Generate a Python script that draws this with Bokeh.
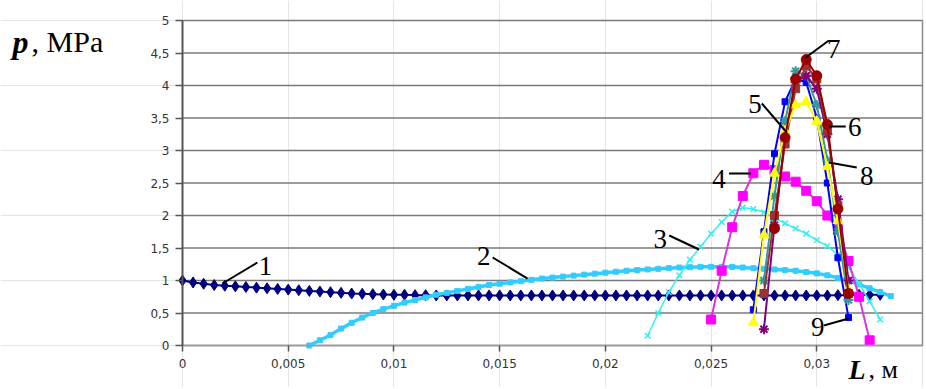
from bokeh.plotting import figure
from bokeh.models import FixedTicker, CustomJSTickFormatter, Label, Range1d, LinearAxis
from bokeh.embed import file_html
from bokeh.resources import INLINE

# ---------------- data ----------------
x1 = [i * 0.0005 for i in range(67)]
y1 = [1.0, 0.97, 0.95, 0.93, 0.92, 0.91, 0.90, 0.89, 0.88, 0.87,
      0.86, 0.85, 0.84, 0.83, 0.82, 0.81, 0.80, 0.795, 0.79, 0.785,
      0.78, 0.78, 0.775, 0.775, 0.77, 0.77, 0.77, 0.77, 0.77, 0.77,
      0.77, 0.77, 0.77, 0.77, 0.77, 0.77, 0.77, 0.77, 0.77, 0.77,
      0.77, 0.77, 0.77, 0.77, 0.77, 0.77, 0.77, 0.77, 0.77, 0.77,
      0.77, 0.77, 0.77, 0.77, 0.77, 0.77, 0.77, 0.77, 0.77, 0.77,
      0.77, 0.77, 0.775, 0.775, 0.78, 0.78, 0.78]

x2 = [0.006 + i * 0.0005 for i in range(56)]
y2 = [0.0, 0.08, 0.16, 0.26, 0.35, 0.43, 0.50, 0.56, 0.61, 0.66,
      0.70, 0.74, 0.78, 0.81, 0.84, 0.87, 0.90, 0.93, 0.95, 0.97,
      0.99, 1.01, 1.03, 1.045, 1.06, 1.075, 1.09, 1.105, 1.12, 1.135,
      1.15, 1.16, 1.17, 1.18, 1.19, 1.20, 1.205, 1.21, 1.21, 1.21,
      1.21, 1.20, 1.19, 1.18, 1.17, 1.16, 1.15, 1.13, 1.11, 1.08,
      1.04, 1.00, 0.94, 0.88, 0.82, 0.76]

x3 = [0.022 + i * 0.0005 for i in range(23)]
y3 = [0.15, 0.50, 0.82, 1.08, 1.32, 1.52, 1.72, 1.90, 2.06, 2.12,
      2.10, 2.05, 1.96, 1.88, 1.80, 1.72, 1.62, 1.53, 1.40, 1.20,
      0.95, 0.68, 0.40]

x4 = [0.025 + i * 0.0005 for i in range(16)]
y4 = [0.40, 1.15, 1.82, 2.30, 2.65, 2.78, 2.70, 2.60, 2.52, 2.38,
      2.22, 2.00, 1.78, 1.30, 0.75, 0.08]

x_pk_a = [0.027 + i * 0.0005 for i in range(10)]
x_pk_b = [0.0275 + i * 0.0005 for i in range(9)]
x_pk_c = [0.028 + i * 0.0005 for i in range(8)]

y5 = [0.35, 1.70, 2.65, 3.30, 3.70, 3.75, 3.45, 2.75, 1.92, 0.85]      # yellow
y6 = [0.80, 2.00, 3.10, 3.95, 4.30, 4.10, 3.30, 2.15, 0.80]           # dark red
y_purple = [0.25, 1.85, 3.20, 4.05, 4.15, 3.95, 3.25, 2.25, 1.00]     # purple
y7 = [1.80, 3.20, 4.10, 4.40, 4.15, 3.40, 2.10, 0.80]                 # maroon
y8 = [1.00, 2.30, 3.45, 4.22, 4.15, 3.70, 2.85, 1.75, 0.70]           # teal
y9 = [0.55, 1.75, 2.95, 3.75, 4.10, 4.05, 3.50, 2.50, 1.35, 0.43]     # blue

x_ticks = [0, 0.005, 0.01, 0.015, 0.02, 0.025, 0.03]
y_ticks = [0, 0.5, 1, 1.5, 2, 2.5, 3, 3.5, 4, 4.5, 5]
X_MAX = 0.035
Y_MAX = 5

curve_names = ["1", "2", "3", "4", "5", "6", "7", "8", "9"]
name_pos_x = [0.00392, 0.01425, 0.0226, 0.02538, 0.02708, 0.03179, 0.0308, 0.03236, 0.03005]
name_pos_y = [1.23, 1.37, 1.646, 2.554, 3.708, 3.354, 4.554, 2.615, 0.292]
lead_x0 = [0.00354, 0.01467, 0.02302, 0.02585, 0.0274, 0.03137, 0.03057, 0.03189, 0.03033]
lead_y0 = [1.277, 1.354, 1.692, 2.646, 3.723, 3.369, 4.692, 2.738, 0.308]
lead_x1 = [0.00189, 0.01632, 0.02443, 0.02689, 0.02858, 0.03057, 0.02948, 0.03057, 0.03151]
lead_y1 = [0.954, 1.03, 1.477, 2.646, 3.277, 3.369, 4.431, 2.815, 0.415]

# ---------------- figure: the frame fills the canvas, axes sit at fixed locations ----------------
FIG_W, FIG_H = 924, 387
PLOT_L, PLOT_W = 182, 740      # pixel position/width of the 0..0.035 span
PLOT_T, PLOT_H = 20, 325       # pixel position/height of the 0..5 span
kx = X_MAX / PLOT_W
ky = Y_MAX / PLOT_H
x_rng = Range1d(-PLOT_L * kx, (FIG_W - PLOT_L) * kx)
y_rng = Range1d(Y_MAX - (FIG_H - PLOT_T) * ky, Y_MAX + PLOT_T * ky)

p = figure(width=FIG_W, height=FIG_H, output_backend="svg", toolbar_location=None,
           x_range=x_rng, y_range=y_rng, x_axis_location=None, y_axis_location=None,
           min_border=0, min_border_left=0, min_border_right=0,
           min_border_top=0, min_border_bottom=0)
p.title.visible = False
p.background_fill_color = "white"
p.border_fill_color = "white"
p.outline_line_color = None

# horizontal grid lines limited to the plot area
p.segment([0] * len(y_ticks), y_ticks, [X_MAX] * len(y_ticks), y_ticks,
          line_color="#7a7a7a", line_width=1.5)

fmt = CustomJSTickFormatter(code="return String(tick).replace('.', ',');")

yaxis = LinearAxis(fixed_location=0, bounds=(0, Y_MAX), ticker=FixedTicker(ticks=y_ticks),
                   formatter=fmt, axis_line_color="#555555", axis_line_width=2,
                   major_tick_line_color="#555555", major_tick_line_width=1.5,
                   major_tick_out=7, major_tick_in=0, minor_tick_line_color=None,
                   major_label_standoff=6, major_label_text_font="DejaVu Sans",
                   major_label_text_font_size="12px", major_label_text_color="#333333")
p.add_layout(yaxis, "left")

xaxis = LinearAxis(fixed_location=0, bounds=(0, X_MAX), ticker=FixedTicker(ticks=x_ticks),
                   formatter=fmt, axis_line_color="#9a9a9a", axis_line_width=1.5,
                   major_tick_line_color="#555555", major_tick_line_width=1.5,
                   major_tick_out=6, major_tick_in=0, minor_tick_line_color=None,
                   major_label_standoff=7, major_label_text_font="DejaVu Sans",
                   major_label_text_font_size="12px", major_label_text_color="#333333")
p.add_layout(xaxis, "below")

rborder = LinearAxis(fixed_location=X_MAX, bounds=(0, Y_MAX), ticker=FixedTicker(ticks=[]),
                     axis_line_color="#8a8a8a", axis_line_width=1.5,
                     major_tick_line_color=None, minor_tick_line_color=None,
                     major_label_text_font_size="0px")
p.add_layout(rborder, "right")

# ---------------- series ----------------
c1 = "#000080"
p.line(x1, y1, line_color=c1, line_width=2)
p.scatter(x1, y1, marker="diamond", size=11, fill_color=c1, line_color=c1)

c2 = "#33CCFF"
p.line(x2, y2, line_color=c2, line_width=3.5)
p.scatter(x2, y2, marker="square", size=5, fill_color=c2, line_color=c2)

c3 = "#33F0F0"
p.line(x3, y3, line_color=c3, line_width=1.5)
p.scatter(x3, y3, marker="x", size=8, line_color=c3, line_width=1.5)

c4 = "#FF00FF"
p.line(x4, y4, line_color="#DD33DD", line_width=2)
p.scatter(x4, y4, marker="square", size=9, fill_color=c4, line_color=c4)

c9 = "#0000FF"
p.line(x_pk_a, y9, line_color=c9, line_width=2)
p.scatter(x_pk_a, y9, marker="square", size=6, fill_color=c9, line_color=c9)

c8 = "#339999"
p.line(x_pk_b, y8, line_color=c8, line_width=2)
p.scatter(x_pk_b, y8, marker="asterisk", size=10, line_color=c8, line_width=2)

cp = "#800080"
p.line(x_pk_b, y_purple, line_color=cp, line_width=2)
p.scatter(x_pk_b, y_purple, marker="asterisk", size=10, line_color=cp, line_width=2)

c6 = "#993333"
p.line(x_pk_b, y6, line_color=c6, line_width=2)
p.scatter(x_pk_b, y6, marker="square", size=8, fill_color=c6, line_color=c6)

c5 = "#FFFF00"
p.line(x_pk_a, y5, line_color=c5, line_width=2)
p.scatter(x_pk_a, y5, marker="triangle", size=10, fill_color=c5, line_color=c5)

c7 = "#990000"
p.line(x_pk_c, y7, line_color=c7, line_width=2)
p.scatter(x_pk_c, y7, marker="circle", size=10, fill_color=c7, line_color=c7)

# ---------------- curve numbers with leaders ----------------
p.segment(lead_x0, lead_y0, lead_x1, lead_y1, line_color="black", line_width=2)
for name, lx, ly in zip(curve_names, name_pos_x, name_pos_y):
    p.add_layout(Label(x=lx, y=ly, text=name, text_align="center",
                       text_baseline="middle", text_font="Liberation Serif",
                       text_font_size="27px", text_color="black"))

# ---------------- axis titles ----------------
title_kw = dict(text_font="Liberation Serif", text_baseline="alphabetic", text_color="black")
p.add_layout(Label(x=-0.00804, y=4.676, text="p", text_font_style="bold italic",
                   text_font_size="32px", **title_kw))
p.add_layout(Label(x=-0.00714, y=4.676, text=", MPa", text_font_size="30px", **title_kw))
p.add_layout(Label(x=0.0315, y=-0.37, text="L", text_font_style="bold italic",
                   text_font_size="28px", **title_kw))
p.add_layout(Label(x=0.03245, y=-0.37, text=", м", text_font_size="26px", **title_kw))

open("out.html", "w").write(file_html(p, INLINE))
